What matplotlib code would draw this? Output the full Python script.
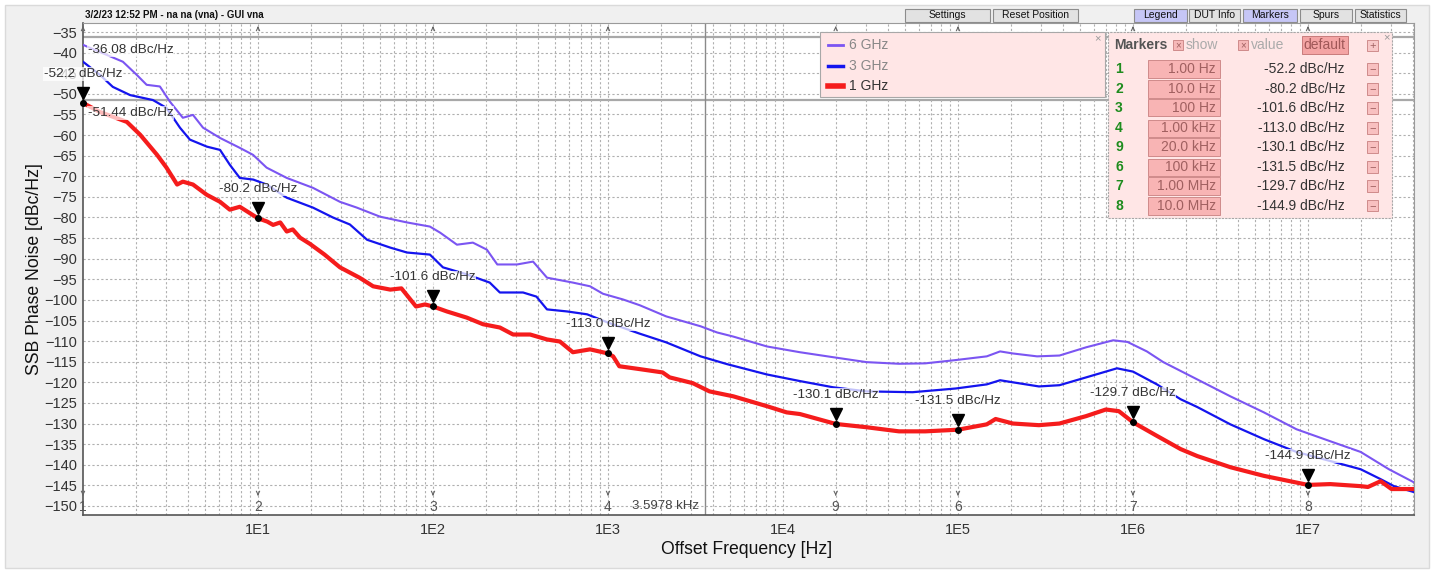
import matplotlib
matplotlib.use("Agg")
import matplotlib.pyplot as plt
import matplotlib.transforms as mtransforms
from matplotlib.patches import Rectangle
from matplotlib.ticker import FixedLocator, NullFormatter

plt.rcParams['font.family'] = ['Liberation Sans', 'DejaVu Sans']

# ---- data ----
# 6 GHz trace
f_6g = [1, 1.69, 2.03, 2.31, 2.75, 3.14, 3.72, 4.25, 4.85, 6.07, 7.87, 9.37, 11.2, 14.6,
        20.6, 29.4, 36.7, 49.8, 71, 96, 110, 137, 169, 203, 233, 302, 373, 448, 630, 790,
        935, 1220, 1520, 2150, 3380, 4200, 5200, 8100, 12500, 19300, 30000, 46000, 65000,
        97000, 146000, 174000, 206000, 283000, 380000, 540000, 770000, 930000, 1.2e6,
        1.49e6, 2.33e6, 3.6e6, 5.6e6, 8.6e6, 1.34e7, 2.0e7, 2.9e7, 4.0e7]
db_6g = [-38.1, -42.2, -45.4, -47.8, -48.2, -51.9, -55.8, -55.1, -58.2, -60.7, -63.1, -64.8,
         -67.9, -70.4, -72.8, -76.2, -77.6, -79.8, -81.2, -82.2, -83.7, -86.6, -86.1, -87.8,
         -91.4, -91.4, -90.7, -94.6, -95.8, -96.7, -98.5, -99.9, -101.3, -104.0, -106.4,
         -107.9, -108.9, -111.3, -112.7, -113.9, -115.1, -115.5, -115.4, -114.6, -113.7,
         -112.5, -113.0, -113.7, -113.5, -111.5, -109.8, -110.2, -112.5, -115.1, -119.3,
         -123.4, -127.3, -131.4, -134.3, -136.9, -141.1, -144.2]

# 3 GHz trace
f_3g = [1, 1.25, 1.48, 1.86, 2.51, 3.0, 3.58, 4.08, 5.1, 6.07, 6.9, 7.87, 9.4, 11.2, 14.6,
        20.6, 26.8, 33.5, 42, 56.9, 71, 96, 114, 156, 211, 241, 327, 390, 448, 584, 760,
        1000, 1520, 2150, 3380, 4800, 8100, 12500, 19300, 30000, 55000, 97000, 146000,
        174000, 206000, 290000, 380000, 540000, 810000, 1.0e6, 1.37e6, 1.87e6, 2.33e6,
        3.6e6, 5.6e6, 8.6e6, 1.34e7, 2.0e7, 2.6e7, 3.1e7, 4.0e7]
db_3g = [-42.2, -45.4, -48.3, -50.3, -51.5, -53.4, -58.2, -61.1, -62.8, -63.6, -67.2, -70.4,
         -70.8, -72.0, -75.2, -77.6, -80.0, -81.7, -85.4, -87.3, -88.5, -89.0, -92.1, -93.8,
         -95.8, -98.2, -98.2, -99.2, -102.3, -102.8, -103.5, -105.5, -108.2, -110.3, -113.7,
         -115.6, -118.1, -119.7, -121.2, -122.2, -122.4, -121.5, -120.5, -119.5, -120.0,
         -121.0, -120.7, -118.8, -116.6, -117.4, -120.5, -124.1, -126.0, -130.2, -133.8,
         -136.9, -139.1, -141.1, -143.5, -145.2, -146.6]

# 1 GHz trace
f_1g = [1, 1.25, 1.78, 2.12, 2.65, 3.0, 3.45, 3.72, 4.25, 5.1, 6.07, 6.9, 7.87, 10, 11.3,
        12.2, 13.4, 14.6, 15.8, 17.4, 19.8, 24, 29.4, 38, 45.5, 57, 66, 80, 90, 100, 120,
        156, 193, 241, 287, 359, 448, 531, 630, 790, 1000, 1070, 1160, 1520, 2050, 2250,
        3050, 3800, 5200, 8100, 10500, 12500, 20000, 30000, 46000, 65000, 100000, 146000,
        164000, 206000, 290000, 380000, 540000, 700000, 830000, 1.0e6, 1.37e6, 1.87e6,
        2.33e6, 3.6e6, 5.6e6, 1.0e7, 1.34e7, 2.0e7, 2.2e7, 2.6e7, 3.0e7, 4.0e7]
db_1g = [-52.2, -54.4, -56.8, -59.9, -64.8, -67.9, -72.0, -71.3, -72.0, -74.5, -76.2, -78.1,
         -77.4, -80.2, -81.0, -81.8, -81.2, -83.4, -82.9, -84.9, -86.4, -89.0, -92.1, -94.6,
         -96.7, -97.5, -97.2, -101.6, -101.1, -101.6, -102.8, -104.3, -105.9, -106.7,
         -108.4, -108.4, -109.6, -110.1, -112.7, -112.0, -113.0, -113.7, -116.1, -116.8,
         -117.6, -118.8, -120.2, -122.2, -123.4, -125.8, -127.3, -127.7, -130.1, -130.9,
         -131.9, -131.9, -131.5, -130.2, -128.9, -130.0, -130.4, -130.0, -128.2, -126.6,
         -127.0, -129.7, -133.0, -136.2, -137.9, -140.6, -142.7, -144.9, -144.7, -145.2,
         -145.4, -144.0, -145.9, -145.9]

# markers
marker_ids = ['1', '2', '3', '4', '9', '6', '7', '8']
marker_freq = [1, 10, 100, 1e3, 2e4, 1e5, 1e6, 1e7]
marker_freq_txt = ['1.00 Hz', '10.0 Hz', '100 Hz', '1.00 kHz', '20.0 kHz', '100 kHz',
                   '1.00 MHz', '10.0 MHz']
marker_db = [-52.2, -80.2, -101.6, -113.0, -130.1, -131.5, -129.7, -144.9]

ref_lines = [-36.08, -51.44]
cursor_freq = 3597.8

legend_labels = ['6 GHz', '3 GHz', '1 GHz']
buttons = [('Settings', 905, 990, False), ('Reset Position', 993, 1078, False),
           ('Legend', 1134, 1187, True), ('DUT Info', 1189, 1240, False),
           ('Markers', 1243, 1297, True), ('Spurs', 1300, 1352, False),
           ('Statistics', 1355, 1406, False)]

C6, C3, C1 = '#7b55f2', '#1414ee', '#f51c1c'

W, H = 1434, 573


def fx(x):
    return x / W


def fy(y):
    return 1 - y / H


fig = plt.figure(figsize=(W / 100, H / 100), dpi=100, facecolor='white')
fig.patches.append(Rectangle((fx(5), fy(568)), fx(1424), (563) / H, transform=fig.transFigure,
                             facecolor='#f0f0f0', edgecolor='#dadada', lw=1, zorder=-10))

ax = fig.add_axes([fx(83), fy(515), (1414 - 83) / W, (515 - 23) / H])
ax.set_facecolor('white')
ax.set_xscale('log')
ax.set_xlim(1, 10 ** ((1414 - 83) / 175))
ax.set_ylim(-152.2, -32.8)

ax.xaxis.set_major_locator(FixedLocator([1e1, 1e2, 1e3, 1e4, 1e5, 1e6, 1e7]))
ax.set_xticklabels(['1E1', '1E2', '1E3', '1E4', '1E5', '1E6', '1E7'])
minors = [m * 10 ** d for d in range(0, 8) for m in range(2, 10)]
ax.xaxis.set_minor_locator(FixedLocator(minors))
ax.xaxis.set_minor_formatter(NullFormatter())
ax.set_yticks(list(range(-150, -34, 5)))
ax.tick_params(axis='both', which='both', length=0, labelsize=10.5, labelcolor='#333333')
ax.tick_params(axis='x', pad=6)
ax.tick_params(axis='y', pad=4)
ax.grid(True, which='both', axis='x', color='#b0b0b0', lw=0.8, ls=(0, (2, 2)))
ax.grid(True, which='major', axis='y', color='#b0b0b0', lw=0.8, ls=(0, (2, 2)))
for s in ['left', 'bottom']:
    ax.spines[s].set_color('#555555')
    ax.spines[s].set_linewidth(1.2)
for s in ['top', 'right']:
    ax.spines[s].set_color('#9a9a9a')

# reference lines and cursor
for r in ref_lines:
    ax.axhline(r, color='#a8a8a8', lw=1.6, zorder=1)
ax.axvline(cursor_freq, color='#8a8a8a', lw=1, zorder=1)
ax.annotate('3.5978 kHz', (cursor_freq, -150), xytext=(-6, 0), textcoords='offset pixels',
            ha='right', va='center', fontsize=9.5, color='#444444')

# traces
ax.plot(f_6g, db_6g, color=C6, lw=1.5, zorder=3)
ax.plot(f_3g, db_3g, color=C3, lw=1.6, zorder=3)
ax.plot(f_1g, db_1g, color=C1, lw=3, zorder=4, solid_joinstyle='round')

# reference line labels
x_lab = 10 ** (5 / 175)
ax.text(x_lab, ref_lines[0] - 3.3, '%.2f dBc/Hz' % ref_lines[0], fontsize=9.7, color='#333333',
        va='center', ha='left', zorder=6,
        bbox=dict(facecolor='white', alpha=0.7, edgecolor='none', pad=0.5))
ax.text(x_lab, ref_lines[1] - 3.2, '%.2f dBc/Hz' % ref_lines[1], fontsize=9.7, color='#333333',
        va='center', ha='left', zorder=6,
        bbox=dict(facecolor='white', alpha=0.7, edgecolor='none', pad=0.5))

# markers on the 1 GHz trace
tri = mtransforms.offset_copy(ax.transData, fig=fig, x=0, y=10, units='dots')
for mid, f, d in zip(marker_ids, marker_freq, marker_db):
    ax.plot([f], [d], 'o', color='black', ms=4, zorder=7, clip_on=False)
    ax.plot([f], [d], marker='v', color='black', ms=9, zorder=7, transform=tri, clip_on=False)
    ax.annotate('%.1f dBc/Hz' % d, (f, d), xytext=(0, 29), textcoords='offset pixels',
                ha='center', va='center', fontsize=9.7, color='#333333', zorder=8,
                annotation_clip=False,
                bbox=dict(facecolor='white', alpha=0.75, edgecolor='none', pad=0.5))
    ax.text(f, -150.2, mid, ha='center', va='center', fontsize=10, color='#555555', zorder=5)
    ax.annotate('', xy=(f, -148.2), xytext=(f, -146.6),
                arrowprops=dict(arrowstyle='->', color='#666666', lw=0.8, mutation_scale=6))
    ax.annotate('', xy=(f, -32.9), xytext=(f, -34.6),
                arrowprops=dict(arrowstyle='->', color='#666666', lw=0.8, mutation_scale=6),
                annotation_clip=False)

# axis titles
fig.text(fx(747), fy(550), 'Offset Frequency [Hz]', ha='center', va='center', fontsize=12.7,
         color='#111111')
fig.text(fx(35), fy(269), 'SSB Phase Noise [dBc/Hz]', ha='center', va='center', fontsize=12.7,
         rotation=90, color='#111111')
fig.text(fx(85), fy(15), '3/2/23 12:52 PM - na na (vna) - GUI vna', ha='left', va='center',
         fontsize=7, fontweight='bold', color='#111111')

# toolbar buttons
for lab, x0, x1, active in buttons:
    fig.patches.append(Rectangle((fx(x0), fy(22)), (x1 - x0) / W, 13 / H,
                                 transform=fig.transFigure,
                                 facecolor='#c6c6f6' if active else '#e2e2e2',
                                 edgecolor='#8c8c8c', lw=0.8, zorder=10))
    fig.text(fx((x0 + x1) / 2), fy(15.5), lab, ha='center', va='center', fontsize=7.5,
             color='#111111', zorder=11)

# legend panel
fig.patches.append(Rectangle((fx(820), fy(97)), 285 / W, 65 / H, transform=fig.transFigure,
                             facecolor='#ffe6e6', edgecolor='#a8a8a8', lw=0.8, zorder=10))
fig.text(fx(1097), fy(38), '×', ha='center', va='center', fontsize=8, color='#999999', zorder=11)
for lab, col, yy, lw, tc in zip(legend_labels, [C6, C3, C1], [45, 66, 86], [2, 2.5, 4],
                                ['#888888', '#888888', '#333333']):
    fig.lines.append(plt.Line2D([fx(828), fx(843)], [fy(yy), fy(yy)], color=col, lw=lw,
                                transform=fig.transFigure, zorder=11))
    fig.text(fx(849), fy(yy), lab, ha='left', va='center', fontsize=10, color=tc, zorder=11)

# markers panel
fig.patches.append(Rectangle((fx(1108), fy(218)), 284 / W, 186 / H, transform=fig.transFigure,
                             facecolor='#ffe6e6', edgecolor='#a8a8a8', lw=0.8, ls=(0, (2, 1)),
                             zorder=10))
fig.text(fx(1386), fy(37), '×', ha='center', va='center', fontsize=8, color='#999999', zorder=11)
fig.text(fx(1114), fy(45), 'Markers', ha='left', va='center', fontsize=10, fontweight='bold',
         color='#555555', zorder=11)
for bx, lab in [(1173, 'show'), (1238, 'value')]:
    fig.patches.append(Rectangle((fx(bx), fy(50)), 10 / W, 10 / H, transform=fig.transFigure,
                                 facecolor='#f6b8b8', edgecolor='#c88080', lw=0.6, zorder=11))
    fig.text(fx(bx + 5), fy(45), '×', ha='center', va='center', fontsize=7, color='#a06060',
             zorder=12)
    fig.text(fx(bx + 13), fy(45), lab, ha='left', va='center', fontsize=10, color='#aaaaaa',
             zorder=11)
fig.patches.append(Rectangle((fx(1302), fy(54)), 46 / W, 18 / H, transform=fig.transFigure,
                             facecolor='#f4a4a4', edgecolor='#c07070', lw=0.6, zorder=11))
fig.text(fx(1303), fy(45), 'default', ha='left', va='center', fontsize=10, color='#a05858',
         zorder=12)
fig.patches.append(Rectangle((fx(1367), fy(51)), 11 / W, 11 / H, transform=fig.transFigure,
                             facecolor='#f8c8c8', edgecolor='#c88080', lw=0.6, zorder=11))
fig.text(fx(1372.5), fy(45.5), '+', ha='center', va='center', fontsize=8, color='#a06060',
         zorder=12)

row_y = [69, 89, 108, 128, 147, 167, 186, 206]
for mid, ftxt, d, yy in zip(marker_ids, marker_freq_txt, marker_db, row_y):
    fig.text(fx(1115), fy(yy), mid, ha='left', va='center', fontsize=10, fontweight='bold',
             color='#1e8c1e', zorder=11)
    fig.patches.append(Rectangle((fx(1148), fy(yy + 8.5)), 72 / W, 17 / H,
                                 transform=fig.transFigure, facecolor='#f8b4b4',
                                 edgecolor='#cf8a8a', lw=0.7, zorder=11))
    fig.text(fx(1216), fy(yy), ftxt, ha='right', va='center', fontsize=10, color='#a06060',
             zorder=12)
    fig.text(fx(1345), fy(yy), '%.1f dBc/Hz' % d, ha='right', va='center', fontsize=10,
             color='#333333', zorder=11)
    fig.patches.append(Rectangle((fx(1367), fy(yy + 5.5)), 11 / W, 11 / H,
                                 transform=fig.transFigure, facecolor='#f8c0c0',
                                 edgecolor='#c88080', lw=0.6, zorder=11))
    fig.text(fx(1372.5), fy(yy), '−', ha='center', va='center', fontsize=8, color='#a06060',
             zorder=12)

fig.savefig('out.png', dpi=100, facecolor=fig.get_facecolor())
